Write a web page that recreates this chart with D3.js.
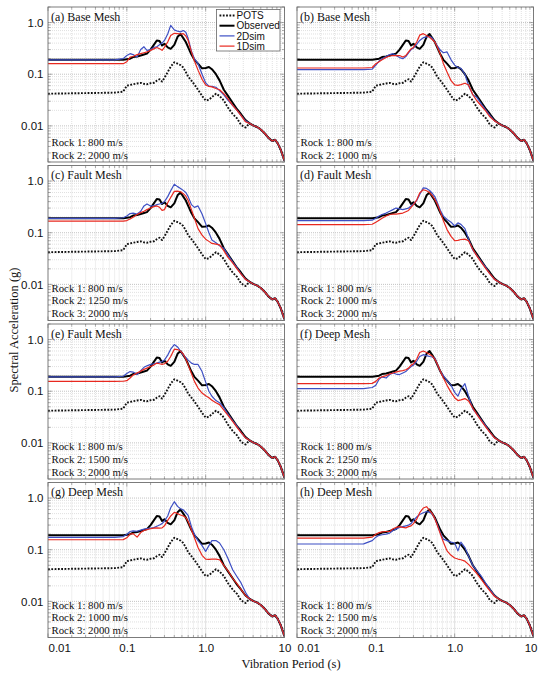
<!DOCTYPE html>
<html><head><meta charset="utf-8">
<script src="https://cdn.jsdelivr.net/npm/d3@7"></script>
<style>body{margin:0;background:#fff}svg{display:block}</style>
</head><body>
<svg id="chart" width="538" height="677"></svg>
<script>
// ---------- DATA ----------
const periodsMain = [0.01,0.07,0.09,0.1,0.11,0.12,0.135,0.15,0.165,0.18,0.2,0.22,0.24,0.26,0.28,0.3,0.33,0.36,0.4,0.44,0.48,0.52,0.56,0.6,0.66,0.72,0.8,0.9,1.0,1.1,1.2,1.35,1.5,1.7,1.9,2.2,2.5,2.8,3.2];
const periodsTail = [3.6,4.0,4.5,5.0,5.6,6.3,7.0,7.6,8.2,9.0,10];
const tailSA = [0.0112,0.0102,0.0095,0.0085,0.0072,0.0058,0.0051,0.0054,0.0046,0.0034,0.0021];

const pots = [0.042,0.044,0.046,0.06, 0.062,0.064,0.066,0.068,0.065,0.064, 0.067,0.068,0.075,0.08,0.072,0.085, 0.11,0.14,0.17,0.16,0.15,0.135, 0.11,0.09,0.075,0.063,0.05,0.038, 0.031,0.032,0.036,0.042,0.038,0.031, 0.023,0.017,0.014,0.0105,0.0093];
const observed = [0.19,0.19,0.19,0.195, 0.2,0.215,0.22,0.23,0.24,0.25, 0.3,0.37,0.45,0.44,0.36,0.39, 0.33,0.31,0.37,0.53,0.6,0.5, 0.42,0.33,0.24,0.19,0.16,0.13, 0.132,0.138,0.125,0.1,0.076,0.05, 0.039,0.028,0.021,0.017,0.013];

const sim2D_a = [0.19,0.19,0.2,0.23, 0.25,0.24,0.215,0.3,0.34,0.29, 0.3,0.33,0.34,0.37,0.4,0.45, 0.6,0.88,0.72,0.68,0.66,0.7, 0.65,0.49,0.28,0.2,0.16,0.1, 0.068,0.059,0.058,0.056,0.048,0.04, 0.032,0.025,0.02,0.016,0.0125];
const sim1D_a = [0.16,0.16,0.16,0.175, 0.215,0.22,0.24,0.25,0.26,0.27, 0.29,0.31,0.33,0.31,0.29,0.33, 0.42,0.56,0.62,0.61,0.6,0.61, 0.55,0.45,0.27,0.18,0.12,0.08, 0.062,0.058,0.057,0.053,0.05,0.042, 0.034,0.025,0.02,0.016,0.012];
const sim2D_b = [0.123,0.123,0.125,0.15, 0.18,0.2,0.22,0.24,0.25,0.23, 0.21,0.2,0.22,0.26,0.3,0.32, 0.38,0.45,0.51,0.53,0.54,0.5, 0.42,0.36,0.29,0.26,0.27,0.19, 0.15,0.135,0.13,0.1,0.06,0.04, 0.036,0.026,0.02,0.016,0.0125];
const sim1D_b = [0.132,0.132,0.135,0.16, 0.175,0.19,0.21,0.225,0.23,0.23, 0.23,0.215,0.23,0.27,0.31,0.33, 0.42,0.57,0.61,0.56,0.52,0.47, 0.42,0.34,0.24,0.16,0.11,0.075, 0.062,0.061,0.063,0.067,0.062,0.04, 0.031,0.024,0.019,0.015,0.0125];
const sim2D_c = [0.19,0.19,0.195,0.21, 0.235,0.24,0.23,0.26,0.33,0.36, 0.33,0.33,0.35,0.36,0.37,0.4, 0.5,0.65,0.87,0.78,0.72,0.66, 0.6,0.5,0.35,0.31,0.33,0.23, 0.15,0.1,0.072,0.064,0.056,0.05, 0.038,0.027,0.021,0.016,0.0125];
const sim1D_c = [0.167,0.167,0.168,0.172, 0.185,0.2,0.225,0.245,0.26,0.28, 0.3,0.32,0.33,0.31,0.27,0.28, 0.38,0.48,0.63,0.64,0.62,0.57, 0.51,0.42,0.28,0.19,0.12,0.09, 0.075,0.068,0.062,0.06,0.058,0.045, 0.034,0.026,0.02,0.016,0.0125];
const sim2D_d = [0.172,0.172,0.175,0.19, 0.21,0.225,0.24,0.26,0.28,0.3, 0.29,0.28,0.29,0.3,0.33,0.36, 0.42,0.55,0.74,0.72,0.66,0.58, 0.5,0.39,0.27,0.21,0.18,0.16, 0.135,0.155,0.145,0.12,0.075,0.046, 0.037,0.027,0.021,0.016,0.0125];
const sim1D_d = [0.144,0.144,0.146,0.16, 0.175,0.19,0.21,0.225,0.23,0.23, 0.235,0.24,0.255,0.27,0.31,0.35, 0.43,0.59,0.68,0.65,0.6,0.52, 0.44,0.36,0.25,0.17,0.115,0.085, 0.07,0.071,0.074,0.075,0.07,0.048, 0.036,0.026,0.02,0.016,0.0125];
const sim2D_e = [0.19,0.19,0.195,0.22, 0.24,0.235,0.21,0.25,0.29,0.31, 0.33,0.34,0.35,0.365,0.375,0.4, 0.5,0.65,0.8,0.72,0.6,0.5, 0.45,0.4,0.35,0.33,0.33,0.24, 0.15,0.1,0.08,0.066,0.06,0.048, 0.037,0.027,0.021,0.016,0.0125];
const sim1D_e = [0.155,0.155,0.156,0.16, 0.18,0.205,0.225,0.245,0.265,0.28, 0.3,0.32,0.35,0.34,0.33,0.34, 0.38,0.47,0.65,0.64,0.6,0.52, 0.42,0.32,0.22,0.155,0.115,0.092, 0.082,0.075,0.067,0.06,0.055,0.043, 0.035,0.026,0.02,0.016,0.0125];
const sim2D_f = [0.112,0.112,0.118,0.13, 0.17,0.19,0.18,0.21,0.225,0.215, 0.21,0.225,0.24,0.27,0.3,0.32, 0.38,0.47,0.51,0.49,0.47,0.46, 0.44,0.34,0.24,0.2,0.16,0.13, 0.095,0.08,0.11,0.14,0.08,0.045, 0.037,0.027,0.021,0.016,0.0125];
const sim1D_f = [0.14,0.14,0.142,0.155, 0.18,0.19,0.2,0.215,0.225,0.235, 0.245,0.25,0.26,0.28,0.32,0.34, 0.42,0.56,0.6,0.56,0.52,0.48, 0.42,0.34,0.24,0.18,0.13,0.095, 0.075,0.066,0.068,0.072,0.065,0.047, 0.036,0.026,0.02,0.016,0.0125];
const sim2D_g = [0.173,0.173,0.18,0.2, 0.225,0.232,0.228,0.24,0.25,0.255, 0.262,0.268,0.285,0.3,0.32,0.36, 0.45,0.65,0.85,0.69,0.62,0.59, 0.52,0.46,0.28,0.2,0.15,0.12, 0.093,0.12,0.15,0.15,0.135,0.1, 0.07,0.041,0.03,0.023,0.015];
const sim1D_g = [0.156,0.156,0.157,0.17, 0.2,0.205,0.175,0.215,0.235,0.245, 0.255,0.262,0.265,0.262,0.265,0.29, 0.37,0.45,0.53,0.5,0.47,0.45, 0.42,0.35,0.24,0.17,0.11,0.078, 0.066,0.065,0.066,0.066,0.064,0.05, 0.04,0.028,0.022,0.017,0.013];
const sim2D_h = [0.129,0.13,0.15,0.175, 0.19,0.195,0.2,0.21,0.235,0.25, 0.27,0.28,0.29,0.3,0.32,0.37, 0.43,0.48,0.52,0.55,0.53,0.49, 0.4,0.31,0.21,0.16,0.15,0.14, 0.135,0.095,0.14,0.11,0.075,0.05, 0.04,0.03,0.022,0.017,0.013];
const sim1D_h = [0.168,0.168,0.175,0.2, 0.215,0.222,0.225,0.226,0.255,0.27, 0.28,0.27,0.265,0.28,0.29,0.32, 0.39,0.52,0.64,0.68,0.58,0.5, 0.4,0.3,0.2,0.14,0.095,0.078, 0.069,0.066,0.064,0.06,0.052,0.042, 0.035,0.026,0.02,0.016,0.0125];

const panelTitles = ["(a) Base Mesh","(b) Base Mesh","(c) Fault Mesh","(d) Fault Mesh","(e) Fault Mesh","(f) Deep Mesh","(g) Deep Mesh","(h) Deep Mesh"];
const panelRocks = [
  ["Rock 1: 800 m/s","Rock 2: 2000 m/s"],
  ["Rock 1: 800 m/s","Rock 2: 1000 m/s"],
  ["Rock 1: 800 m/s","Rock 2: 1250 m/s","Rock 3: 2000 m/s"],
  ["Rock 1: 800 m/s","Rock 2: 1000 m/s","Rock 3: 2000 m/s"],
  ["Rock 1: 800 m/s","Rock 2: 1500 m/s","Rock 3: 2000 m/s"],
  ["Rock 1: 800 m/s","Rock 2: 1250 m/s","Rock 3: 2000 m/s"],
  ["Rock 1: 800 m/s","Rock 2: 1000 m/s","Rock 3: 2000 m/s"],
  ["Rock 1: 800 m/s","Rock 2: 1500 m/s","Rock 3: 2000 m/s"]
];
const sim2D = [sim2D_a,sim2D_b,sim2D_c,sim2D_d,sim2D_e,sim2D_f,sim2D_g,sim2D_h];
const sim1D = [sim1D_a,sim1D_b,sim1D_c,sim1D_d,sim1D_e,sim1D_f,sim1D_g,sim1D_h];

const seriesNames = ["POTS","Observed","2Dsim","1Dsim"];
const xTickValues = [0.01,0.1,1,10];
const xTickLabels = ["0.01","0.1","1.0","10"];
const yTickValues = [1,0.1,0.01];
const yTickLabels = ["1.0","0.1","0.01"];

// ---------- STYLE / LAYOUT ----------
const styles = {
  "POTS":    {color:"#111", width:1.9, dash:"1.8,1.5"},
  "Observed":{color:"#000", width:2.0, dash:null},
  "2Dsim":   {color:"#3d4fc4", width:1.2, dash:null},
  "1Dsim":   {color:"#e8281f", width:1.2, dash:null}
};
const colX = [48, 297], pw = 236.5;
const rowTop = [7, 165.5, 324, 482.5], ph = 155;
const sansF = "'Liberation Sans', Arial, Helvetica, sans-serif";
const serifF = "'Liberation Serif', 'Times New Roman', serif";

const periods = periodsMain.concat(periodsTail);
const full = arr => arr.concat(tailSA);

const svg = d3.select("#chart");
svg.append("rect").attr("width",538).attr("height",677).attr("fill","#fff");

panelTitles.forEach((title, i) => {
  const col = i % 2, row = Math.floor(i / 2);
  const x0 = colX[col], y0 = rowTop[row];
  const x = d3.scaleLog().domain([0.01, 10]).range([x0, x0 + pw]);
  const y = d3.scaleLog().domain([0.002, 2]).range([y0 + ph, y0]);
  const g = svg.append("g");
  const cid = "clip" + i;
  g.append("clipPath").attr("id", cid).append("rect")
    .attr("x", x0).attr("y", y0).attr("width", pw).attr("height", ph);

  const isMajor = v => Math.abs(Math.log10(v) - Math.round(Math.log10(v))) < 1e-6;
  // grid
  const grid = g.append("g");
  x.ticks().filter(v => v > 0.0100001 && v < 9.99999).forEach(v => {
    grid.append("line").attr("x1", x(v)).attr("x2", x(v)).attr("y1", y0).attr("y2", y0 + ph)
      .attr("stroke", isMajor(v) ? "#a9a9a9" : "#d2d2d2").attr("stroke-width", 0.7)
      .attr("stroke-dasharray", "1,1");
  });
  y.ticks().filter(v => v > 0.0020001 && v < 1.99999).forEach(v => {
    grid.append("line").attr("y1", y(v)).attr("y2", y(v)).attr("x1", x0).attr("x2", x0 + pw)
      .attr("stroke", isMajor(v) ? "#a9a9a9" : "#d2d2d2").attr("stroke-width", 0.7)
      .attr("stroke-dasharray", "1,1");
  });
  // inward tick marks
  const tk = g.append("g").attr("stroke", "#777").attr("stroke-width", 0.6);
  x.ticks().forEach(v => {
    const L = isMajor(v) ? 4 : 2.5;
    tk.append("line").attr("x1", x(v)).attr("x2", x(v)).attr("y1", y0 + ph).attr("y2", y0 + ph - L);
    tk.append("line").attr("x1", x(v)).attr("x2", x(v)).attr("y1", y0).attr("y2", y0 + L);
  });
  y.ticks().forEach(v => {
    const L = isMajor(v) ? 4 : 2.5;
    tk.append("line").attr("y1", y(v)).attr("y2", y(v)).attr("x1", x0).attr("x2", x0 + L);
    tk.append("line").attr("y1", y(v)).attr("y2", y(v)).attr("x1", x0 + pw).attr("x2", x0 + pw - L);
  });

  // lines
  const line = d3.line().x(d => x(d[0])).y(d => y(d[1]));
  const data = {
    "POTS": full(pots), "Observed": full(observed), "2Dsim": full(sim2D[i]), "1Dsim": full(sim1D[i])
  };
  const lg = g.append("g").attr("clip-path", `url(#${cid})`);
  seriesNames.forEach(name => {
    const st = styles[name];
    const pts = periods.map((p, k) => [p, data[name][k]]);
    lg.append("path").datum(pts).attr("d", line).attr("fill", "none")
      .attr("stroke", st.color).attr("stroke-width", st.width)
      .attr("stroke-linejoin", "round")
      .attr("stroke-dasharray", st.dash);
  });

  // border
  g.append("rect").attr("x", x0).attr("y", y0).attr("width", pw).attr("height", ph)
    .attr("fill", "none").attr("stroke", "#6e6e6e").attr("stroke-width", 0.9);

  // title
  g.append("text").attr("x", x0 + 3).attr("y", y0 + 13.5).text(title)
    .attr("font-family", serifF).attr("font-size", 12).attr("fill", "#111");
  // rock labels
  const rocks = panelRocks[i];
  rocks.forEach((r, k) => {
    g.append("text").attr("x", x0 + 3.5).attr("y", y0 + ph - 3.5 - (rocks.length - 1 - k) * 12.6)
      .text(r).attr("font-family", serifF).attr("font-size", 10.8).attr("fill", "#111");
  });

  // y axis labels
  if (col === 0) {
    const ax = g.append("g").attr("transform", `translate(${x0},0)`)
      .call(d3.axisLeft(y).tickValues(yTickValues).tickFormat((d, k) => yTickLabels[k]).tickSize(0).tickPadding(4.5));
    ax.select(".domain").remove();
    ax.selectAll("text").attr("font-family", sansF).attr("font-size", 11.5).attr("fill", "#111");
  }
  // x axis labels
  if (row === 3) {
    const ax = g.append("g").attr("transform", `translate(0,${y0 + ph})`)
      .call(d3.axisBottom(x).tickValues(xTickValues).tickFormat((d, k) => xTickLabels[k]).tickSize(0).tickPadding(6));
    ax.select(".domain").remove();
    ax.selectAll("text").attr("font-family", sansF).attr("font-size", 11.5).attr("fill", "#111")
      .attr("text-anchor", (d, k) => k === 0 ? "start" : (k === 3 && col === 1 ? "end" : "middle"))
      .attr("dx", (d, k) => (k === 3 && col === 1) ? 3.5 : 0);
  }

  // legend (panel a)
  if (i === 0) {
    const lx = 216.5, ly = 9.5, lw = 63.5, lh = 41.5;
    const leg = g.append("g");
    leg.append("rect").attr("x", lx).attr("y", ly).attr("width", lw).attr("height", lh)
      .attr("fill", "#fff").attr("stroke", "#666").attr("stroke-width", 0.8);
    seriesNames.forEach((name, k) => {
      const st = styles[name];
      const yy = ly + 6 + k * 10.2;
      leg.append("line").attr("x1", lx + 3).attr("x2", lx + 18).attr("y1", yy).attr("y2", yy)
        .attr("stroke", st.color).attr("stroke-width", st.width).attr("stroke-dasharray", st.dash);
      leg.append("text").attr("x", lx + 20).attr("y", yy + 3.6).text(name)
        .attr("font-family", sansF).attr("font-size", 10).attr("fill", "#111");
    });
  }
});

// axis titles
svg.append("text").attr("x", 291).attr("y", 668).attr("text-anchor", "middle")
  .text("Vibration Period (s)").attr("font-family", serifF).attr("font-size", 12.5).attr("fill", "#111");
svg.append("text").attr("transform", "translate(18,330) rotate(-90)").attr("text-anchor", "middle")
  .text("Spectral Acceleration (g)").attr("font-family", serifF).attr("font-size", 12.5).attr("fill", "#111");
</script>
</body></html>
